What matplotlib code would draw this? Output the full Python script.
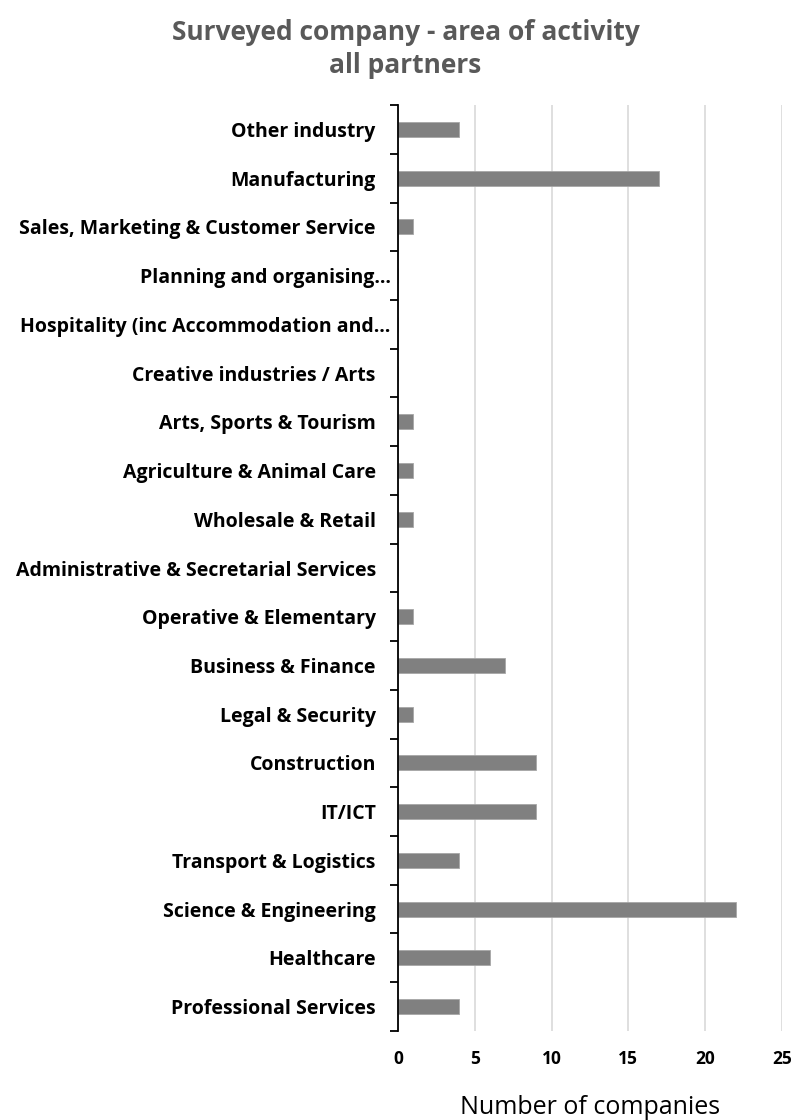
import numpy as np
import matplotlib.pyplot as plt
import matplotlib.transforms as mtransforms

plt.rcParams['font.family'] = ['Open Sans', 'DejaVu Sans']

# categories listed bottom to top
categories = ["Professional Services", "Healthcare", "Science & Engineering",
              "Transport & Logistics", "IT/ICT", "Construction", "Legal & Security",
              "Business & Finance", "Operative & Elementary",
              "Administrative & Secretarial Services", "Wholesale & Retail",
              "Agriculture & Animal Care", "Arts, Sports & Tourism",
              "Creative industries / Arts", "Hospitality (inc Accommodation and\u2026",
              "Planning and organising\u2026", "Sales, Marketing & Customer Service",
              "Manufacturing", "Other industry"]
counts = [4, 6, 22, 4, 9, 9, 1, 7, 1, 0, 1, 1, 1, 0, 0, 0, 1, 17, 4]
xticks = [0, 5, 10, 15, 20, 25]

fig = plt.figure(figsize=(7.95, 11.2), dpi=100)
ax = fig.add_axes([0.5006, 0.0795, 0.483, 0.8267])

y = np.arange(len(categories))
ax.barh(y, counts, height=0.31, color='#808080', edgecolor='#a6a6a6', linewidth=0.6, zorder=3)

ax.set_xlim(0, 25)
ax.set_ylim(-0.5, len(categories) - 0.5)
ax.set_xticks(xticks)
ax.set_xticklabels([str(t) for t in xticks], fontsize=12.5, fontweight='bold')
ax.set_yticks(y)
ax.set_yticklabels(categories, fontsize=14, fontweight='bold')
ax.tick_params(axis='y', length=0, pad=16)
ax.tick_params(axis='x', length=0, pad=14)
ax.set_yticks(np.arange(-0.5, len(categories), 1.0), minor=True)
ax.tick_params(axis='y', which='minor', length=6, width=1.3, color='black')

# truncated labels sit closer to the axis
shift = mtransforms.ScaledTranslation(15 / 100, 0, fig.dpi_scale_trans)
for lab in ax.get_yticklabels():
    if lab.get_text().endswith('\u2026'):
        lab.set_transform(lab.get_transform() + shift)

ax.grid(axis='x', color='#d9d9d9', linewidth=1.2, zorder=0)
for s in ['top', 'right', 'bottom']:
    ax.spines[s].set_visible(False)
ax.spines['left'].set_linewidth(1.3)
ax.spines['left'].set_zorder(4)

ax.set_xlabel("Number of companies", fontsize=18, labelpad=19)
fig.suptitle("Surveyed company - area of activity\nall partners", fontsize=19,
             fontweight='bold', color='#595959', x=0.51, y=0.983, linespacing=1.3)

fig.savefig("out.png", dpi=100)
